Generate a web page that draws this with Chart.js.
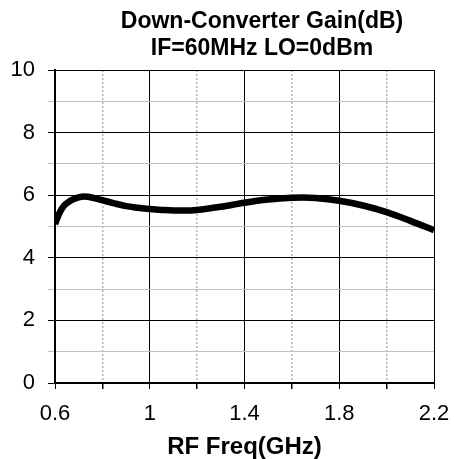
<!DOCTYPE html>
<html>
<head>
<meta charset="utf-8">
<script src="https://cdn.jsdelivr.net/npm/chart.js@4"></script>
<style>
  html, body { margin: 0; padding: 0; background: #fff; }
  #wrap { width: 454px; height: 459px; }
</style>
</head>
<body>
<div id="wrap"><canvas id="gainChart" width="454" height="459"></canvas></div>
<script>
// Down-converter gain vs RF frequency
const rfFreq = [0.6, 0.62, 0.64, 0.66, 0.68, 0.7, 0.72, 0.74, 0.77, 0.8, 0.85, 0.9, 0.95, 1.0, 1.05, 1.1, 1.15, 1.2, 1.3, 1.4, 1.5, 1.6, 1.65, 1.7, 1.8, 1.9, 2.0, 2.1, 2.2];
const gainDb = [5.08, 5.45, 5.68, 5.8, 5.88, 5.93, 5.96, 5.95, 5.9, 5.84, 5.74, 5.65, 5.6, 5.56, 5.53, 5.51, 5.51, 5.53, 5.63, 5.76, 5.86, 5.92, 5.93, 5.91, 5.82, 5.67, 5.46, 5.18, 4.88];

const titleLines = ['Down-Converter Gain(dB)', 'IF=60MHz LO=0dBm'];
const xAxisTitle = 'RF Freq(GHz)';
const xLabelTicks = [0.6, 1, 1.4, 1.8, 2.2];
const yLabelTicks = [0, 2, 4, 6, 8, 10];

const fontFamily = 'Arial, "Liberation Sans", sans-serif';

// title sits a bit right of the plot centre, so draw it ourselves
const titlePlugin = {
    id: 'twoLineTitle',
    afterDraw(chart) {
        const ctx = chart.ctx;
        ctx.save();
        ctx.fillStyle = '#000';
        ctx.font = 'bold 23px ' + fontFamily;
        ctx.textAlign = 'center';
        ctx.textBaseline = 'middle';
        ctx.fillText(titleLines[0], 262, 22);
        ctx.fillText(titleLines[1], 262, 49);
        ctx.restore();
    }
};

const isLabelX = v => xLabelTicks.some(t => Math.abs(t - v) < 1e-6);

const canvas = document.getElementById('gainChart');
new Chart(canvas.getContext('2d'), {
    type: 'line',
    data: {
        datasets: [{
            data: rfFreq.map((f, i) => ({ x: f, y: gainDb[i] })),
            borderColor: '#000',
            borderWidth: 6.5,
            pointRadius: 0,
            tension: 0.4,
            cubicInterpolationMode: 'monotone',
            fill: false
        }]
    },
    options: {
        responsive: false,
        animation: false,
        layout: { padding: { top: 70, right: 20, left: 0, bottom: 0 } },
        plugins: {
            legend: { display: false },
            title: { display: false },
            tooltip: { enabled: false }
        },
        scales: {
            x: {
                type: 'linear',
                min: 0.6,
                max: 2.2,
                ticks: {
                    stepSize: 0.2,
                    color: '#000',
                    font: { family: fontFamily, size: 22 },
                    padding: 12,
                    maxRotation: 0,
                    autoSkip: false,
                    callback: v => isLabelX(v) ? String(Math.round(v * 10) / 10) : ''
                },
                grid: {
                    color: c => isLabelX(c.tick.value) ? '#000' : '#b4b4b4',
                    lineWidth: c => isLabelX(c.tick.value) ? 1 : 1.5,
                    tickColor: '#000',
                    tickLength: 6
                },
                border: {
                    color: '#000',
                    width: 2,
                    dash: c => (c.tick && !isLabelX(c.tick.value)) ? [2, 2] : []
                },
                title: {
                    display: true,
                    text: xAxisTitle,
                    color: '#000',
                    font: { family: fontFamily, size: 24, weight: 'bold', lineHeight: 1.0 },
                    padding: { top: 0, bottom: 0 }
                },
                afterFit: s => {
                    s.height = 76;
                    s.paddingLeft = 0;
                    s.paddingRight = 0;
                }
            },
            y: {
                min: 0,
                max: 10,
                ticks: {
                    stepSize: 1,
                    color: '#000',
                    font: { family: fontFamily, size: 22 },
                    padding: 13,
                    callback: v => yLabelTicks.includes(v) ? String(v) : ''
                },
                grid: {
                    color: c => yLabelTicks.includes(c.tick.value) ? '#000' : '#c0c0c0',
                    lineWidth: 1,
                    tickLength: 7
                },
                border: { color: '#000', width: 2 },
                afterFit: s => { s.width = 55; }
            }
        }
    },
    plugins: [titlePlugin]
});
</script>
</body>
</html>
